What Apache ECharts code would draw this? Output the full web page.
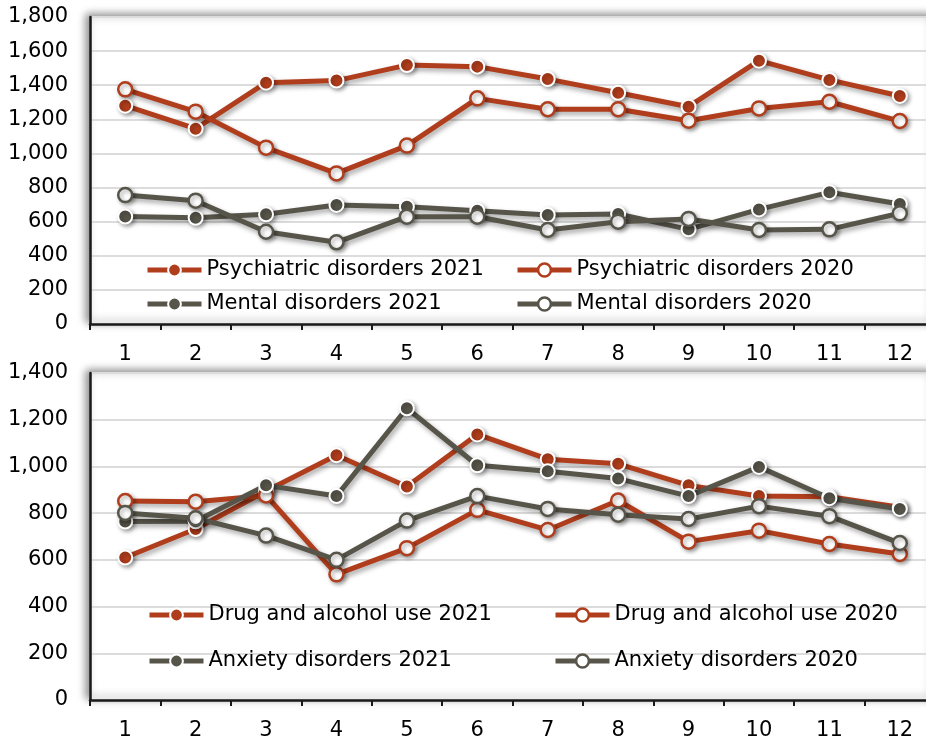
<!DOCTYPE html>
<html><head><meta charset="utf-8">
<script src="https://cdn.jsdelivr.net/npm/echarts@6/dist/echarts.min.js"></script>
<style>html,body{margin:0;padding:0;background:#fff}#c{width:926px;height:742px}</style>
</head><body><div id="c"></div>
<script>
const months = ['1','2','3','4','5','6','7','8','9','10','11','12'];
const psych2021 = [1280, 1145, 1415, 1427, 1518, 1509, 1436, 1356, 1274, 1544, 1431, 1337];
const psych2020 = [1376, 1245, 1034, 883, 1046, 1323, 1259, 1259, 1192, 1264, 1303, 1190];
const mental2021 = [630, 623, 643, 698, 688, 664, 639, 645, 555, 672, 772, 704];
const mental2020 = [756, 723, 541, 479, 629, 629, 551, 600, 616, 551, 555, 649];
const drug2021 = [610, 732, 895, 1048, 914, 1137, 1031, 1011, 919, 873, 870, 825];
const drug2020 = [852, 849, 876, 538, 650, 814, 728, 854, 678, 725, 668, 625];
const anx2021 = [764, 765, 919, 873, 1249, 1005, 979, 948, 873, 998, 864, 818];
const anx2020 = [801, 778, 704, 600, 768, 873, 818, 793, 775, 830, 787, 672];
const topTicks = {min: 0, max: 1800, interval: 200};
const botTicks = {min: 0, max: 1400, interval: 200};

const RED = '#B03D1C', GRAY = '#57554A';
const FONT = 'DejaVu Sans';

function ser(name, data, color, filled, idx) {
  return {
    name, type: 'line', data, xAxisIndex: idx, yAxisIndex: idx,
    symbol: 'circle', symbolSize: 14,
    lineStyle: {color, width: 5, shadowColor: 'rgba(0,0,0,0.35)', shadowBlur: 5, shadowOffsetX: 2, shadowOffsetY: 3},
    itemStyle: filled
      ? {color, borderColor: '#fff', borderWidth: 2, shadowColor: 'rgba(0,0,0,0.35)', shadowBlur: 4, shadowOffsetX: 2, shadowOffsetY: 2}
      : {color: '#fff', borderColor: color, borderWidth: 2.5, shadowColor: 'rgba(0,0,0,0.35)', shadowBlur: 4, shadowOffsetX: 2, shadowOffsetY: 2},
    emphasis: {disabled: true}, animation: false
  };
}

function leg(name, left, cy) {
  return {
    data: [name], left, top: cy - 11, padding: 0, itemWidth: 54, itemHeight: 16,
    lineStyle: {width: 5, shadowBlur: 0, shadowColor: 'transparent'},
    itemStyle: {borderWidth: 'inherit', shadowBlur: 0, shadowColor: 'transparent'},
    textStyle: {fontSize: 21, fontFamily: FONT, color: '#000', lineHeight: 22},
    selectedMode: false
  };
}

function xAx(idx) {
  return {
    type: 'category', data: months, gridIndex: idx,
    axisLine: {lineStyle: {color: '#1a1a1a', width: 2.5}},
    axisTick: {show: true, length: 6, lineStyle: {color: '#1a1a1a', width: 2}},
    axisLabel: {fontSize: 21, fontFamily: FONT, color: '#000', margin: 20}
  };
}
function yAx(idx, t) {
  return {
    type: 'value', gridIndex: idx, min: t.min, max: t.max, interval: t.interval,
    axisLine: {show: true, lineStyle: {color: '#1a1a1a', width: 2.5}},
    axisTick: {show: false},
    splitLine: {lineStyle: {color: '#dcdcdc', width: 2}},
    axisLabel: {fontSize: 21, fontFamily: FONT, color: '#000', margin: 22,
      formatter: v => v.toLocaleString('en-US')}
  };
}

const gridStyle = {show: true, backgroundColor: '#fff', borderColor: '#a8a8a8', borderWidth: 2,
  shadowColor: 'rgba(0,0,0,0.45)', shadowBlur: 8, shadowOffsetX: -3, shadowOffsetY: -2,
  containLabel: false, outerBoundsMode: 'none'};

const chart = echarts.init(document.getElementById('c'), null, {renderer: 'canvas'});
chart.setOption({
  animation: false,
  grid: [
    Object.assign({left: 90, top: 17, width: 845, height: 307}, gridStyle),
    Object.assign({left: 90, top: 373, width: 845, height: 327}, gridStyle)
  ],
  xAxis: [xAx(0), xAx(1)],
  yAxis: [yAx(0, topTicks), yAx(1, botTicks)],
  legend: [
    leg('Psychiatric disorders 2021', 145, 270),
    leg('Psychiatric disorders 2020', 515, 270),
    leg('Mental disorders 2021', 145, 304),
    leg('Mental disorders 2020', 515, 304),
    leg('Drug and alcohol use 2021', 147, 615),
    leg('Drug and alcohol use 2020', 553, 615),
    leg('Anxiety disorders 2021', 147, 661),
    leg('Anxiety disorders 2020', 553, 661)
  ],
  series: [
    ser('Mental disorders 2021', mental2021, GRAY, true, 0),
    ser('Mental disorders 2020', mental2020, GRAY, false, 0),
    ser('Psychiatric disorders 2021', psych2021, RED, true, 0),
    ser('Psychiatric disorders 2020', psych2020, RED, false, 0),
    ser('Drug and alcohol use 2021', drug2021, RED, true, 1),
    ser('Drug and alcohol use 2020', drug2020, RED, false, 1),
    ser('Anxiety disorders 2021', anx2021, GRAY, true, 1),
    ser('Anxiety disorders 2020', anx2020, GRAY, false, 1)
  ]
});
</script></body></html>
